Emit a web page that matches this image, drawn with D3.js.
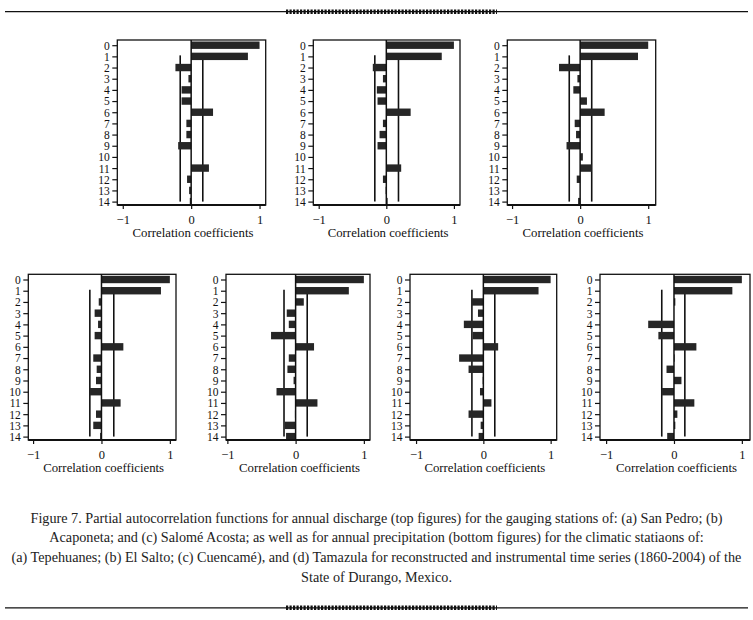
<!DOCTYPE html>
<html><head><meta charset="utf-8">
<script src="https://cdn.jsdelivr.net/npm/d3@7"></script>
<style>body{margin:0;background:#fff}svg{display:block}</style>
</head><body>
<svg id="c" width="753" height="620"></svg>
<script>
const lags = d3.range(0, 15);
const xTicks = [-1, 0, 1];
const axisTitle = "Correlation coefficients";

// Partial autocorrelations, top: discharge (a) San Pedro, (b) Acaponeta, (c) Salomé Acosta
const pacfSanPedro   = [1.00, 0.83, -0.23, -0.04, -0.14, -0.14, 0.32, -0.07, -0.07, -0.19, 0.00, 0.26, -0.06, -0.03, -0.02];
const pacfAcaponeta  = [1.00, 0.82, -0.20, -0.05, -0.14, -0.13, 0.36, -0.05, -0.10, -0.13, 0.00, 0.22, -0.05, -0.01, 0.02];
const pacfSalome     = [1.00, 0.85, -0.31, -0.04, -0.10, 0.10, 0.36, -0.08, -0.06, -0.20, 0.04, 0.17, -0.05, 0.00, -0.03];
// bottom: precipitation (a) Tepehuanes, (b) El Salto, (c) Cuencamé, (d) Tamazula
const pacfTepehuanes = [1.00, 0.87, -0.04, -0.10, -0.05, -0.10, 0.32, -0.12, -0.07, -0.08, -0.17, 0.28, -0.08, -0.12, -0.02];
const pacfElSalto    = [1.00, 0.78, 0.12, -0.13, -0.10, -0.36, 0.27, -0.10, -0.12, -0.03, -0.28, 0.32, -0.01, -0.16, -0.14];
const pacfCuencame   = [1.00, 0.82, -0.17, -0.08, -0.29, -0.16, 0.22, -0.36, -0.22, -0.01, -0.05, 0.12, -0.22, -0.04, -0.07];
const pacfTamazula   = [1.00, 0.86, 0.02, 0.00, -0.38, -0.23, 0.33, 0.01, -0.11, 0.11, -0.18, 0.30, 0.05, 0.02, -0.10];
// confidence limits
const confSanPedro = [-0.16, 0.17], confAcaponeta = [-0.17, 0.18], confSalome = [-0.16, 0.17];
const confTepehuanes = [-0.17, 0.18], confElSalto = [-0.17, 0.17], confCuencame = [-0.17, 0.17], confTamazula = [-0.18, 0.16];

const captionLines = [
  "Figure 7. Partial autocorrelation functions for annual discharge (top figures) for the gauging stations of: (a) San Pedro; (b)",
  "Acaponeta; and (c) Salomé Acosta; as well as for annual precipitation (bottom figures) for the climatic statiaons of:",
  "(a) Tepehuanes; (b) El Salto; (c) Cuencamé), and (d) Tamazula for reconstructed and instrumental time series (1860-2004) of the",
  "State of Durango, Mexico."
];

const panels = [
  {vals: pacfSanPedro,   conf: confSanPedro,   x0: 117.3, x1: 265.7, y0: 40,    y1: 205, dom: [-1.08, 1.09]},
  {vals: pacfAcaponeta,  conf: confAcaponeta,  x0: 313.3, x1: 460,   y0: 40,    y1: 205, dom: [-1.08, 1.09]},
  {vals: pacfSalome,     conf: confSalome,     x0: 507.3, x1: 655.7, y0: 40,    y1: 205, dom: [-1.07, 1.11]},
  {vals: pacfTepehuanes, conf: confTepehuanes, x0: 28.3,  x1: 176,   y0: 274.3, y1: 440, dom: [-1.07, 1.09]},
  {vals: pacfElSalto,    conf: confElSalto,    x0: 226,   x1: 370,   y0: 274.3, y1: 440, dom: [-1.02, 1.09]},
  {vals: pacfCuencame,   conf: confCuencame,   x0: 410,   x1: 556.7, y0: 274.3, y1: 440, dom: [-1.09, 1.09]},
  {vals: pacfTamazula,   conf: confTamazula,   x0: 600,   x1: 750,   y0: 274.3, y1: 440, dom: [-1.09, 1.12]}
];

const svg = d3.select("#c");
const FONT = "'Liberation Serif', 'DejaVu Serif', serif";
const barColor = "#262626";

panels.forEach(p => {
  const x = d3.scaleLinear().domain(p.dom).range([p.x0, p.x1]);
  const y = d3.scalePoint().domain(lags).range([p.y0 + 5.2, p.y1 - 3.4]);
  const g = svg.append("g");
  const barH = 7.4;

  // frame
  g.append("rect").attr("x", p.x0).attr("y", p.y0).attr("width", p.x1 - p.x0).attr("height", p.y1 - p.y0)
    .attr("fill", "#fff").attr("stroke", "#111").attr("stroke-width", 1.3);

  // confidence limits
  p.conf.forEach(c => {
    g.append("line").attr("x1", x(c)).attr("x2", x(c)).attr("y1", y(1) - 1).attr("y2", y(14))
      .attr("stroke", "#111").attr("stroke-width", 1.6);
  });

  // bars
  g.selectAll("rect.bar").data(p.vals).enter().append("rect").attr("class", "bar")
    .attr("x", d => Math.min(x(0), x(d)))
    .attr("width", d => Math.abs(x(d) - x(0)))
    .attr("y", (d, i) => y(lags[i]) - barH / 2)
    .attr("height", barH)
    .attr("fill", barColor);

  // zero line
  g.append("line").attr("x1", x(0)).attr("x2", x(0)).attr("y1", p.y0).attr("y2", p.y1)
    .attr("stroke", "#111").attr("stroke-width", 1.5);

  // bottom axis line thicker
  g.append("line").attr("x1", p.x0).attr("x2", p.x1).attr("y1", p.y1).attr("y2", p.y1)
    .attr("stroke", "#111").attr("stroke-width", 2);

  // y axis
  const ya = d3.axisLeft(y).tickSize(5).tickPadding(2.5);
  const yg = g.append("g").attr("transform", `translate(${p.x0},0)`).call(ya);
  yg.select(".domain").remove();
  yg.selectAll("line").attr("stroke", "#111").attr("stroke-width", 1.2);
  yg.selectAll("text").attr("font-family", FONT).attr("font-size", 11.5).attr("fill", "#111").attr("dy", "0.34em");

  // x axis
  const xa = d3.axisBottom(x).tickValues(xTicks).tickFormat(d3.format("d")).tickSize(4).tickPadding(6);
  const xg = g.append("g").attr("transform", `translate(0,${p.y1})`).call(xa);
  xg.select(".domain").remove();
  xg.selectAll("line").attr("stroke", "#111").attr("stroke-width", 1.2);
  xg.selectAll("text").attr("font-family", FONT).attr("font-size", 12.5).attr("fill", "#111");

  g.append("text").attr("x", (p.x0 + p.x1) / 2 + 1.5).attr("y", p.y1 + 32)
    .attr("text-anchor", "middle").attr("font-family", FONT).attr("font-size", 12.8).attr("fill", "#111")
    .text(axisTitle);
});

// caption
svg.selectAll("text.cap").data(captionLines).enter().append("text").attr("class", "cap")
  .attr("x", 376.5).attr("y", (d, i) => 522.5 + i * 19.7)
  .attr("text-anchor", "middle").attr("font-family", FONT).attr("font-size", 14.2).attr("fill", "#222")
  .text(d => d);

// decorative rules
function rule(yy) {
  svg.append("line").attr("x1", 5).attr("x2", 748).attr("y1", yy).attr("y2", yy).attr("stroke", "#111").attr("stroke-width", 1.3);
  svg.append("line").attr("x1", 286).attr("x2", 497).attr("y1", yy).attr("y2", yy)
    .attr("stroke", "#111").attr("stroke-width", 4.5).attr("stroke-dasharray", "2.2,1.3");
}
rule(11.7);
rule(607.8);
</script>
</body></html>
